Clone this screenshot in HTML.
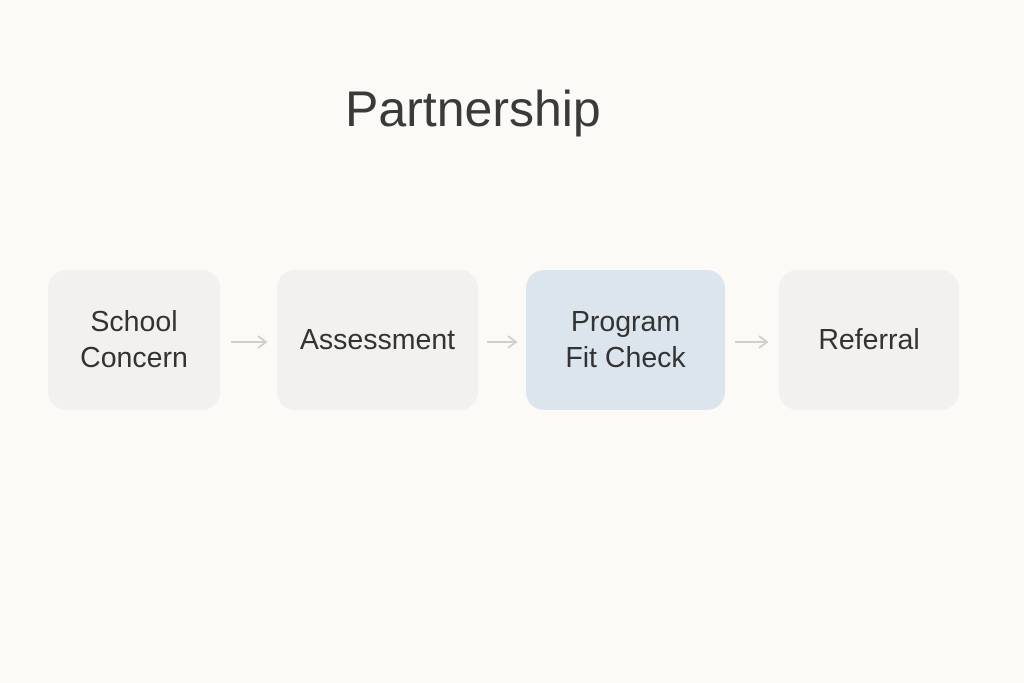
<!DOCTYPE html>
<html><head><style>
body{margin:0;width:1024px;height:683px;background:#fbfaf7;font-family:"Liberation Sans",sans-serif;position:relative;overflow:hidden}
.t{position:absolute;left:345px;top:80px;font-size:50px;color:#3a3a3a;white-space:nowrap}
.b{position:absolute;top:272px;height:140px;border-radius:18px;background:#f2f1ef;display:flex;align-items:center;justify-content:center;text-align:center;font-size:28.5px;line-height:36px;color:#333}
</style></head><body>
<div class="t">Partnership</div>
<div class="b" style="left:48px;width:172px;top:270px">School<br>Concern</div>
<div class="b" style="left:277px;width:201px;top:270px">Assessment</div>
<div class="b" style="left:526px;width:199px;background:#dce5ed;top:270px">Program<br>Fit Check</div>
<div class="b" style="left:779px;width:180px;top:270px">Referral</div>
<svg style="position:absolute;left:0;top:0" width="1024" height="683">
<g stroke="#d2d0cc" stroke-width="2" fill="none">
<path d="M231 342H266M258 336L266 342L258 348"/>
<path d="M487 342H516M508 336L516 342L508 348"/>
<path d="M735 342H767M759 336L767 342L759 348"/>
</g></svg>
</body></html>
